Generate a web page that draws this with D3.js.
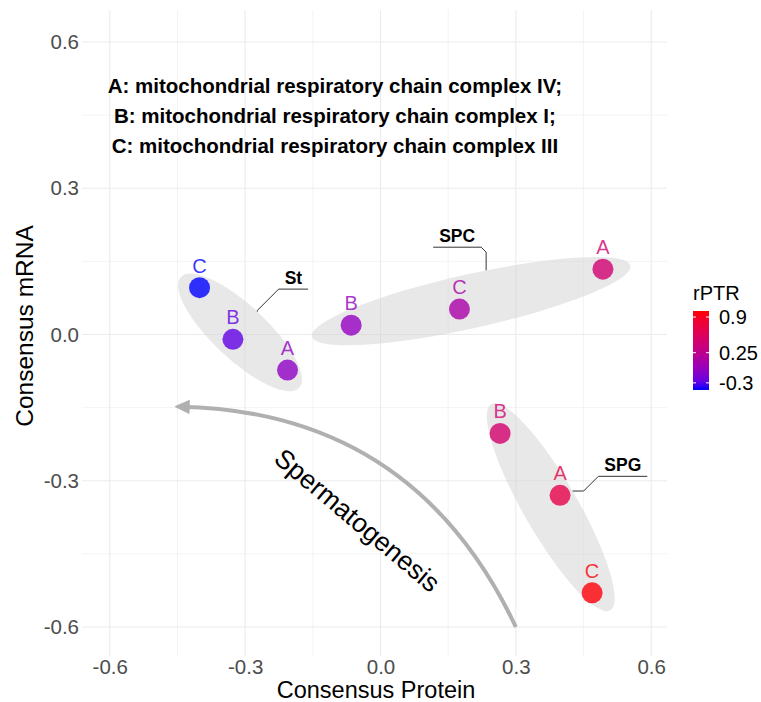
<!DOCTYPE html>
<html>
<head>
<meta charset="utf-8">
<script src="https://cdn.jsdelivr.net/npm/d3@7"></script>
<style>
  body { margin: 0; background: #fff; }
  svg { font-family: "Liberation Sans", Arial, sans-serif; }
</style>
</head>
<body>
<div id="chart"></div>
<script>
// data
const groups = ["St", "St", "St", "SPC", "SPC", "SPC", "SPG", "SPG", "SPG"];
const complexes = ["C", "B", "A", "B", "C", "A", "B", "A", "C"];
const protein = [-0.401, -0.327, -0.206, -0.065, 0.175, 0.493, 0.265, 0.398, 0.469];
const mrna = [0.096, -0.010, -0.073, 0.019, 0.052, 0.134, -0.203, -0.330, -0.530];
const rptr = [-0.43, -0.28, -0.08, -0.05, 0.10, 0.44, 0.46, 0.69, 0.99];

const groupNames = ["St", "SPC", "SPG"];
const groupLabelX = [-0.193, 0.170, 0.537];
const groupLabelY = [0.093, 0.179, -0.291];

const xTicks = [-0.6, -0.3, 0, 0.3, 0.6];
const yTicks = [-0.6, -0.3, 0, 0.3, 0.6];
const minorTicks = [-0.45, -0.15, 0.15, 0.45];
const legendTicks = [-0.3, 0.25, 0.9];
const legendLabels = ["-0.3", "0.25", "0.9"];
const colorRange = [-0.43, 1.01];

const noteLines = [
  "A: mitochondrial respiratory chain complex IV;",
  "B: mitochondrial respiratory chain complex I;",
  "C: mitochondrial respiratory chain complex III"
];
const notePos = [-0.101, 0.448];

const arrowFrom = [0.3, -0.6];
const arrowTo = [-0.455, -0.148];
const arrowText = "Spermatogenesis";
const arrowTextPos = [-0.051, -0.381];

const width = 761, height = 702;
const panel = { left: 82, right: 667, top: 10, bottom: 656 };

const svg = d3.select("#chart").append("svg")
  .attr("width", width)
  .attr("height", height);

const x = d3.scaleLinear().domain([-0.6615, 0.635]).range([panel.left, panel.right]);
const y = d3.scaleLinear().domain([-0.6595, 0.6655]).range([panel.bottom, panel.top]);
const color = d3.scaleLinear().domain(colorRange).range(["blue", "red"])
  .interpolate(d3.interpolateLab);

// grid
const grid = svg.append("g");
grid.selectAll(".minx").data(minorTicks).join("line")
  .attr("x1", d => x(d)).attr("x2", d => x(d))
  .attr("y1", panel.top).attr("y2", panel.bottom)
  .attr("stroke", "#f0f0f0").attr("stroke-width", 0.8);
grid.selectAll(".miny").data(minorTicks).join("line")
  .attr("y1", d => y(d)).attr("y2", d => y(d))
  .attr("x1", panel.left).attr("x2", panel.right)
  .attr("stroke", "#f0f0f0").attr("stroke-width", 0.8);
grid.selectAll(".majx").data(xTicks).join("line")
  .attr("x1", d => x(d)).attr("x2", d => x(d))
  .attr("y1", panel.top).attr("y2", panel.bottom)
  .attr("stroke", "#ebebeb").attr("stroke-width", 1.1);
grid.selectAll(".majy").data(yTicks).join("line")
  .attr("y1", d => y(d)).attr("y2", d => y(d))
  .attr("x1", panel.left).attr("x2", panel.right)
  .attr("stroke", "#ebebeb").attr("stroke-width", 1.1);

// axes (text only, like theme_minimal)
const fmt = d3.formatLocale({ decimal: ".", thousands: ",", grouping: [3], currency: ["", ""], minus: "-" }).format(".1f");
const xAxis = svg.append("g")
  .attr("transform", `translate(0,${panel.bottom})`)
  .call(d3.axisBottom(x).tickValues(xTicks).tickFormat(fmt).tickSize(0).tickPadding(3));
const yAxis = svg.append("g")
  .attr("transform", `translate(${panel.left},0)`)
  .call(d3.axisLeft(y).tickValues(yTicks).tickFormat(fmt).tickSize(0).tickPadding(3));
[xAxis, yAxis].forEach(a => {
  a.select(".domain").remove();
  a.selectAll("text")
    .attr("fill", "#4d4d4d")
    .style("font-size", "20.5px")
    .style("font-family", "Liberation Sans, Arial, sans-serif");
});

svg.append("text")
  .attr("x", 376)
  .attr("y", 698)
  .attr("text-anchor", "middle")
  .style("font-size", "23.5px")
  .text("Consensus Protein");
svg.append("text")
  .attr("transform", `translate(33,326) rotate(-90)`)
  .attr("text-anchor", "middle")
  .style("font-size", "24.5px")
  .text("Consensus mRNA");

// points in pixel space
const pts = protein.map((p, i) => ({
  px: x(p), py: y(mrna[i]), group: groups[i], label: complexes[i], v: rptr[i]
}));

// ellipses around each group
const ellipses = groupNames.map(g => {
  const gp = pts.filter(p => p.group === g);
  let best = [gp[0], gp[1]], bestD = 0;
  gp.forEach(a => gp.forEach(b => {
    const d = Math.hypot(a.px - b.px, a.py - b.py);
    if (d > bestD) { bestD = d; best = [a, b]; }
  }));
  const cx = d3.mean(gp, p => p.px), cy = d3.mean(gp, p => p.py);
  const ang = Math.atan2(best[1].py - best[0].py, best[1].px - best[0].px);
  return { cx, cy, ang, a: bestD / 2 * 1.195 + 9, b: 27 };
});

svg.append("g").selectAll("ellipse").data(ellipses).join("ellipse")
  .attr("cx", d => d.cx).attr("cy", d => d.cy)
  .attr("rx", d => d.a).attr("ry", d => d.b)
  .attr("transform", d => `rotate(${d.ang * 180 / Math.PI},${d.cx},${d.cy})`)
  .attr("fill", "#d2d2d2").attr("fill-opacity", 0.5);

// group labels with elbow leader lines
const labelG = svg.append("g");
groupNames.forEach((g, i) => {
  const lx = x(groupLabelX[i]), ly = y(groupLabelY[i]);
  const t = labelG.append("text")
    .attr("x", lx).attr("y", ly - 5)
    .attr("text-anchor", "middle")
    .attr("font-weight", "bold")
    .style("font-size", "17.5px")
    .text(g);
  const w = t.node().getComputedTextLength() + 12;
  const e = ellipses[i];
  const ends = [[lx - w / 2, ly], [lx + w / 2, ly]];
  // nearest ellipse boundary point to each segment end
  const nearest = pnt => {
    let best = null, bd = Infinity;
    for (let k = 0; k < 720; k++) {
      const th = k / 720 * 2 * Math.PI;
      const u = e.a * Math.cos(th), v = e.b * Math.sin(th);
      const qx = e.cx + u * Math.cos(e.ang) - v * Math.sin(e.ang);
      const qy = e.cy + u * Math.sin(e.ang) + v * Math.cos(e.ang);
      const d = Math.hypot(qx - pnt[0], qy - pnt[1]);
      if (d < bd) { bd = d; best = [qx, qy]; }
    }
    return { best, bd };
  };
  const cand = ends.map(nearest);
  const k = cand[0].bd < cand[1].bd ? 0 : 1;
  const p0 = ends[k], tgt = cand[k].best;
  const dx = tgt[0] - p0[0], dy = tgt[1] - p0[1];
  const diag = Math.min(Math.abs(dx), Math.abs(dy));
  const mid = [p0[0] + Math.sign(dx) * diag, p0[1] + Math.sign(dy) * diag];
  labelG.append("path")
    .attr("d", d3.line()([ends[1 - k], p0, mid, tgt]))
    .attr("fill", "none").attr("stroke", "#333").attr("stroke-width", 1);
});

// points and letters
svg.append("g").selectAll("circle").data(pts).join("circle")
  .attr("cx", d => d.px).attr("cy", d => d.py).attr("r", 10.5)
  .attr("fill", d => color(d.v)).attr("fill-opacity", 0.8);
svg.append("g").selectAll("text").data(pts).join("text")
  .attr("x", d => d.px).attr("y", d => d.py - 15)
  .attr("text-anchor", "middle")
  .attr("fill", d => color(d.v)).attr("fill-opacity", 0.8)
  .style("font-size", "20px")
  .text(d => d.label);

// complex key
svg.append("g").selectAll("text").data(noteLines).join("text")
  .attr("x", x(notePos[0]))
  .attr("y", (d, i) => y(notePos[1]) + 7 + (i - 1) * 29.7)
  .attr("text-anchor", "middle")
  .attr("font-weight", "bold")
  .style("font-size", "20.5px")
  .text(d => d);

// curved arrow
const S = [x(arrowFrom[0]), y(arrowFrom[1])], E = [x(arrowTo[0]), y(arrowTo[1])];
const cdx = E[0] - S[0], cdy = E[1] - S[1], L = Math.hypot(cdx, cdy);
const curv = 0.31;
const C = [(S[0] + E[0]) / 2 - cdy / L * curv * L, (S[1] + E[1]) / 2 + cdx / L * curv * L];
const path = d3.path();
path.moveTo(S[0], S[1]);
path.quadraticCurveTo(C[0], C[1], E[0] + (C[0] - E[0]) * 0.02, E[1] + (C[1] - E[1]) * 0.02);
svg.append("path").attr("d", path.toString())
  .attr("fill", "none").attr("stroke", "#b0b0b0").attr("stroke-width", 4);
const ha = Math.atan2(E[1] - C[1], E[0] - C[0]);
const hl = 14, hw = 6.5;
const head = [
  E,
  [E[0] - hl * Math.cos(ha) + hw * Math.sin(ha), E[1] - hl * Math.sin(ha) - hw * Math.cos(ha)],
  [E[0] - hl * Math.cos(ha) - hw * Math.sin(ha), E[1] - hl * Math.sin(ha) + hw * Math.cos(ha)]
];
svg.append("path").attr("d", d3.line()(head) + "Z")
  .attr("fill", "#b0b0b0").attr("stroke", "#b0b0b0").attr("stroke-width", 1);

svg.append("text")
  .attr("transform", `translate(${x(arrowTextPos[0])},${y(arrowTextPos[1])}) rotate(40)`)
  .attr("text-anchor", "middle")
  .attr("dy", "0.35em")
  .style("font-size", "26.5px")
  .text(arrowText);

// legend
const lg = svg.append("g").attr("transform", "translate(693,0)");
lg.append("text").attr("x", 0).attr("y", 300).style("font-size", "20px").text("rPTR");
const barTop = 311, barH = 79, barW = 16;
const ly = d3.scaleLinear().domain(colorRange).range([barTop + barH, barTop]);
const defs = svg.append("defs");
const grad = defs.append("linearGradient").attr("id", "rptr-grad")
  .attr("x1", 0).attr("y1", 1).attr("x2", 0).attr("y2", 0);
d3.range(0, 1.0001, 0.1).forEach(t => {
  grad.append("stop").attr("offset", t)
    .attr("stop-color", color(colorRange[0] + t * (colorRange[1] - colorRange[0])));
});
lg.append("rect").attr("x", 0).attr("y", barTop).attr("width", barW).attr("height", barH)
  .attr("fill", "url(#rptr-grad)");
legendTicks.forEach((t, i) => {
  lg.append("line").attr("x1", 0).attr("x2", 3).attr("y1", ly(t)).attr("y2", ly(t))
    .attr("stroke", "#fff").attr("stroke-width", 1);
  lg.append("line").attr("x1", barW - 3).attr("x2", barW).attr("y1", ly(t)).attr("y2", ly(t))
    .attr("stroke", "#fff").attr("stroke-width", 1);
  lg.append("text").attr("x", 26).attr("y", ly(t)).attr("dy", "0.35em")
    .style("font-size", "20px").attr("fill", "#000")
    .text(legendLabels[i]);
});
</script>
</body>
</html>
